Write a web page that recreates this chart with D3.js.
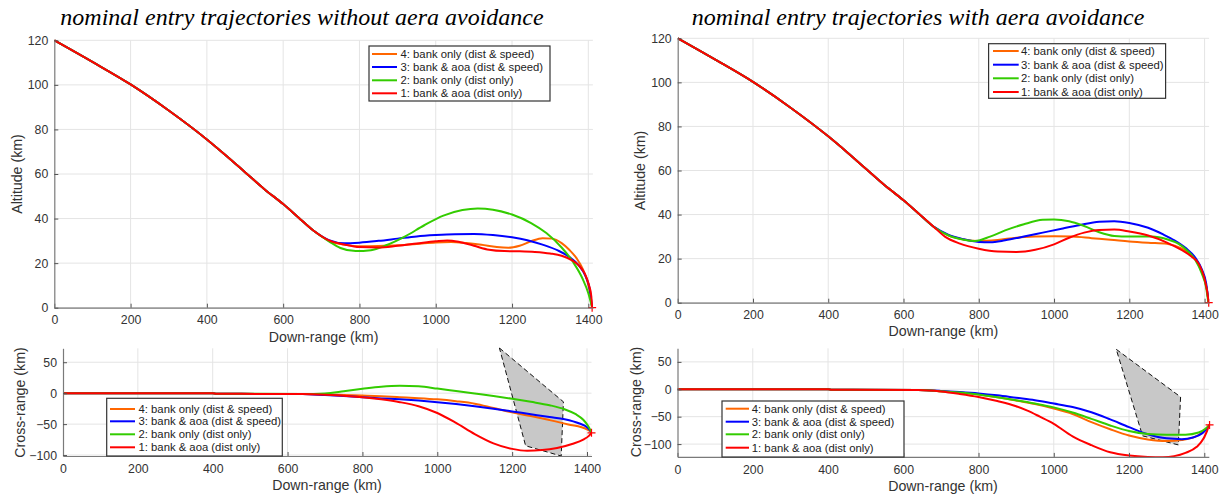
<!DOCTYPE html>
<html>
<head>
<meta charset="utf-8">
<script src="https://cdn.jsdelivr.net/npm/d3@7"></script>
<style>
  body { margin: 0; background: #fff; }
  svg { display: block; }
  text { font-family: "Liberation Sans", Arial, Helvetica, sans-serif; }
</style>
</head>
<body>
<svg id="chart" width="1225" height="495"></svg>
<script>
// ---------- data (down-range km, altitude / cross-range km) ----------
const downRangeTicks = [0, 200, 400, 600, 800, 1000, 1200, 1400];
const altitudeTicks = [0, 20, 40, 60, 80, 100, 120];
const crossRangeTicks = [-100, -50, 0, 50];

const seriesNames = [
  "4: bank only (dist & speed)",
  "3: bank & aoa (dist & speed)",
  "2: bank only (dist only)",
  "1: bank & aoa (dist only)"
];

const panelTitles = [
  "nominal entry trajectories without aera avoidance",
  "nominal entry trajectories with aera avoidance"
];

// shared initial descent (altitude)
const descent = [[0,120],[100,110.3],[200,100.2],[300,88.5],[400,75.5],[450,68.3],
  [500,60.8],[550,53.3],[600,46.5],[640,40.5],[680,34.5]];

// altitude, no area avoidance
const altNoAvoid4 = [[720,30.0],[760,28.3],[800,27.6],[850,27.7],[900,28.0],[950,28.6],[1000,29.3],
  [1040,29.5],[1080,29.0],[1120,28.2],[1160,27.2],[1190,26.9],[1220,27.8],[1250,29.8],[1280,31.2],
  [1305,31.0],[1330,29.0],[1350,26.0],[1370,22.0],[1385,17.5],[1398,11.5],[1406,5],[1410,0]];
const altNoAvoid3 = [[720,30.3],[760,28.9],[800,29.2],[850,30.0],[900,31.0],[950,32.0],[1000,32.6],
  [1050,33.0],[1100,33.1],[1150,32.6],[1200,31.6],[1240,30.3],[1280,28.3],[1320,25.7],[1350,22.8],
  [1375,19],[1393,14],[1404,8],[1410,0]];
const altNoAvoid2 = [[720,29.8],[750,26.8],[790,25.4],[830,25.8],[870,28.0],[920,32.0],[970,37.0],
  [1020,41.3],[1070,43.8],[1110,44.5],[1150,44.0],[1200,41.8],[1250,38.0],[1290,33.5],[1330,27],
  [1360,20.5],[1385,13],[1400,6.5],[1410,0]];
const altNoAvoid1 = [[720,30.2],[760,28.4],[800,27.2],[850,27.0],[900,27.8],[950,28.8],[1000,29.8],
  [1030,30.2],[1060,29.6],[1100,27.8],[1140,26.0],[1180,25.4],[1220,25.3],[1260,25.0],[1300,24.3],
  [1330,23.3],[1355,21.5],[1375,19],[1390,15.5],[1402,10],[1408,5],[1410,0]];

// altitude, with area avoidance
const altAvoid4 = [[720,30.5],[760,28.7],[800,28.0],[850,28.5],[900,29.5],[950,30.0],[1000,30.2],
  [1050,30.0],[1100,29.3],[1150,28.6],[1200,27.8],[1250,27.2],[1300,26.7],[1340,24.5],[1365,21.5],
  [1385,17.5],[1398,12],[1406,6],[1411,0]];
const altAvoid3 = [[720,30.8],[760,28.8],[800,27.6],[830,27.4],[870,28.3],[920,30.0],[970,31.8],
  [1020,33.6],[1070,35.3],[1120,36.7],[1160,37.0],[1200,36.2],[1250,34.0],[1290,31.0],[1320,28.3],
  [1350,24.8],[1375,20.5],[1393,15],[1404,9],[1411,0]];
const altAvoid2 = [[720,30.5],[760,28.6],[790,28.0],[830,30.0],[870,32.8],[920,35.6],[970,37.6],
  [1000,37.8],[1040,37.0],[1080,34.8],[1120,32.0],[1160,30.3],[1200,30.0],[1260,30.0],[1300,28.8],
  [1330,26.8],[1355,23.5],[1375,19.5],[1392,13.5],[1404,7],[1410,0]];
const altAvoid1 = [[710,30.0],[750,26.8],[800,24.5],[850,23.2],[900,23.0],[950,24.0],[1000,26.5],
  [1040,29.5],[1080,31.8],[1120,33.0],[1160,33.2],[1200,32.3],[1250,30.5],[1300,27.3],[1340,23.8],
  [1365,21],[1385,17.5],[1398,12],[1406,6],[1411,0]];

// shared initial cross-range
const crossStart = [[0,0],[400,0],[410,-0.8],[640,-1.5]];

// cross-range, no area avoidance
const crossNoAvoid4 = [[700,-2.0],[750,-2.8],[800,-3.8],[850,-5],[900,-6.5],[950,-8],[1000,-10],
  [1050,-13],[1100,-17],[1150,-24],[1200,-31],[1250,-37],[1300,-43.5],[1350,-50.5],[1400,-58.5],[1412,-63]];
const crossNoAvoid3 = [[700,-3],[750,-4.5],[800,-6.5],[850,-8.5],[900,-10],[950,-12],[1000,-14.5],
  [1050,-17.5],[1100,-21],[1150,-25],[1200,-29.5],[1250,-34],[1300,-38.5],[1340,-42],[1380,-49],
  [1400,-55],[1412,-63]];
const crossNoAvoid2 = [[700,-0.5],[750,3],[800,7],[850,10.5],[900,12],[950,11],[1000,7.5],[1050,3.5],
  [1100,-0.5],[1150,-4.5],[1200,-9],[1250,-14],[1300,-19.5],[1340,-26],[1370,-34],[1390,-43],
  [1403,-53],[1412,-63]];
const crossNoAvoid1 = [[700,-2.5],[750,-4],[800,-6.5],[850,-10],[900,-14.5],[950,-21],[1000,-32],
  [1050,-48],[1100,-66],[1150,-81],[1200,-90],[1240,-93],[1280,-92],[1320,-88.5],[1360,-82],
  [1390,-75],[1405,-69],[1412,-64]];

// cross-range, with area avoidance
const crossAvoid4 = [[700,-3.5],[750,-6],[800,-9.5],[850,-14.5],[900,-20.5],[950,-27],[1000,-35],
  [1050,-45],[1100,-60],[1150,-73],[1200,-84.5],[1250,-91.5],[1300,-94.5],[1340,-92.5],[1375,-87],
  [1395,-79],[1407,-71],[1414,-65]];
const crossAvoid3 = [[700,-3],[750,-5],[800,-7.5],[850,-11],[900,-15.5],[950,-20],[1000,-26],
  [1050,-32.5],[1100,-42],[1150,-55],[1200,-69],[1250,-82],[1300,-89.5],[1340,-91],[1370,-88],
  [1395,-80],[1407,-72],[1414,-65]];
const crossAvoid2 = [[700,-3.5],[750,-6],[800,-9.5],[850,-14.5],[900,-20],[950,-26],[1000,-33],
  [1050,-42.5],[1100,-54],[1150,-66],[1200,-76],[1250,-81.5],[1300,-83],[1350,-83],[1385,-79],
  [1403,-72],[1414,-65]];
const crossAvoid1 = [[700,-4],[750,-8.5],[800,-14],[850,-21.5],[900,-31],[930,-39],[963,-50],
  [1000,-63],[1050,-86],[1100,-102],[1150,-115],[1200,-121],[1250,-123.5],[1290,-124],[1320,-122],
  [1350,-116],[1380,-105],[1398,-90],[1408,-75],[1414,-65]];

// no-fly area outline (down-range, cross-range)
const noFlyArea = [[1166,73],[1337,-14],[1331,-101.5],[1236,-85]];

// ---------- styling ----------
const seriesColors = ["#ff6600", "#0000ff", "#33cc00", "#ff0000"];
const tickFont = 12.3, labelFont = 14.2, legendFont = 11.3;

const svg = d3.select("#chart");
let clipId = 0;

function drawPanel(cfg) {
  const x = d3.scaleLinear().domain(cfg.xDomain).range(cfg.xRange);
  const y = d3.scaleLinear().domain(cfg.yDomain).range(cfg.yRange);
  const g = svg.append("g");
  const [xl, xr] = cfg.xRange, [yb, yt] = cfg.yRange;

  // grid
  g.append("g").selectAll("line").data(cfg.xTicks.filter(d => d > 0)).join("line")
    .attr("x1", d => x(d)).attr("x2", d => x(d)).attr("y1", yb).attr("y2", yt)
    .attr("stroke", "#e4e4e4").attr("stroke-width", 1);
  g.append("g").selectAll("line").data(cfg.yTicks).join("line")
    .attr("x1", xl).attr("x2", xr).attr("y1", d => y(d)).attr("y2", d => y(d))
    .attr("stroke", "#e4e4e4").attr("stroke-width", 1);

  const id = "clip" + (clipId++);
  g.append("clipPath").attr("id", id).append("rect")
    .attr("x", xl).attr("y", yt - 1).attr("width", xr - xl).attr("height", yb - yt + 1.5);
  const plot = g.append("g").attr("clip-path", `url(#${id})`);

  if (cfg.area) {
    plot.append("path")
      .attr("d", d3.line().x(d => x(d[0])).y(d => y(d[1]))(cfg.area) + "Z")
      .attr("fill", "#c8c8c8").attr("stroke", "#111").attr("stroke-width", 1)
      .attr("stroke-dasharray", "5,3");
  }

  const line = d3.line().x(d => x(d[0])).y(d => y(d[1])).curve(d3.curveMonotoneX);
  cfg.series.forEach((s, i) => {
    plot.append("path").attr("d", line(s)).attr("fill", "none")
      .attr("stroke", seriesColors[i]).attr("stroke-width", 2)
      .attr("stroke-linejoin", "round");
  });
  // end marker of series 1
  const last = cfg.series[3][cfg.series[3].length - 1];
  g.append("path").attr("transform", `translate(${x(last[0])},${y(last[1])})`)
    .attr("d", "M-4,0H4M0,-4V4").attr("stroke", "#ff0000").attr("stroke-width", 1.2);

  // axes
  const fmt = d3.format("d");
  const ax = g.append("g").attr("transform", `translate(0,${yb})`)
    .call(d3.axisBottom(x).tickValues(cfg.xTicks).tickFormat(fmt).tickSizeInner(-4).tickSizeOuter(0).tickPadding(8));
  const ay = g.append("g").attr("transform", `translate(${xl},0)`)
    .call(d3.axisLeft(y).tickValues(cfg.yTicks).tickFormat(fmt).tickSizeInner(-4).tickSizeOuter(0).tickPadding(6));
  [ax, ay].forEach(a => {
    a.select(".domain").attr("stroke", "#7a7a7a").attr("stroke-width", 1.2);
    a.selectAll(".tick line").attr("stroke", "#555");
    a.selectAll(".tick text").attr("fill", "#333").style("font-size", tickFont + "px")
      .style("font-family", "'Liberation Sans', Arial, sans-serif");
  });

  // axis labels
  g.append("text").attr("x", cfg.xLabelPos[0]).attr("y", cfg.xLabelPos[1])
    .attr("text-anchor", "middle").attr("dominant-baseline", "central")
    .attr("fill", "#333").style("font-size", labelFont + "px").text("Down-range (km)");
  g.append("text").attr("transform", `translate(${cfg.yLabelPos[0]},${cfg.yLabelPos[1]}) rotate(-90)`)
    .attr("text-anchor", "middle").attr("dominant-baseline", "central")
    .attr("fill", "#333").style("font-size", labelFont + "px").text(cfg.yLabel);

  // legend
  const L = cfg.legend;
  const lg = g.append("g");
  lg.append("rect").attr("x", L.box[0]).attr("y", L.box[1]).attr("width", L.box[2]).attr("height", L.box[3])
    .attr("fill", "#fff").attr("stroke", "#333").attr("stroke-width", 1.2);
  seriesNames.forEach((name, i) => {
    const ry = L.rows[i];
    lg.append("line").attr("x1", L.sample[0]).attr("x2", L.sample[1]).attr("y1", ry).attr("y2", ry)
      .attr("stroke", seriesColors[i]).attr("stroke-width", 2);
    lg.append("text").attr("x", L.textX).attr("y", ry).attr("dominant-baseline", "central")
      .attr("fill", "#222").style("font-size", legendFont + "px").text(name);
  });
}

// titles
svg.append("text").attr("x", 302).attr("y", 25).attr("text-anchor", "middle")
  .style("font-family", "'Liberation Serif', 'Times New Roman', serif").style("font-style", "italic")
  .style("font-size", "24px").attr("fill", "#000").text(panelTitles[0]);
svg.append("text").attr("x", 918).attr("y", 25).attr("text-anchor", "middle")
  .style("font-family", "'Liberation Serif', 'Times New Roman', serif").style("font-style", "italic")
  .style("font-size", "24px").attr("fill", "#000").text(panelTitles[1]);

drawPanel({
  xDomain: [0, 1412], xRange: [54.3, 592.9], yDomain: [0, 120], yRange: [307.7, 40.3],
  xTicks: downRangeTicks, yTicks: altitudeTicks, yLabel: "Altitude (km)",
  xLabelPos: [323.6, 337], yLabelPos: [16.5, 174],
  series: [descent.concat(altNoAvoid4), descent.concat(altNoAvoid3), descent.concat(altNoAvoid2), descent.concat(altNoAvoid1)],
  legend: { box: [369, 46, 181, 55], rows: [54, 67, 80.3, 93.3], sample: [372, 397], textX: 400.5 }
});

drawPanel({
  xDomain: [0, 1412], xRange: [677.7, 1209.1], yDomain: [0, 120], yRange: [302.7, 38.3],
  xTicks: downRangeTicks, yTicks: altitudeTicks, yLabel: "Altitude (km)",
  xLabelPos: [943.4, 331], yLabelPos: [640, 170.5],
  series: [descent.concat(altAvoid4), descent.concat(altAvoid3), descent.concat(altAvoid2), descent.concat(altAvoid1)],
  legend: { box: [988.6, 43.7, 177, 54.6], rows: [51, 64.7, 78.3, 92], sample: [993, 1018.7], textX: 1021 }
});

drawPanel({
  xDomain: [0, 1412], xRange: [63, 591.5], yDomain: [-101.5, 72.5], yRange: [456, 348.3],
  xTicks: downRangeTicks, yTicks: crossRangeTicks, yLabel: "Cross-range (km)",
  xLabelPos: [327, 485], yLabelPos: [19.5, 402.5], area: noFlyArea,
  series: [crossStart.concat(crossNoAvoid4), crossStart.concat(crossNoAvoid3), crossStart.concat(crossNoAvoid2), crossStart.concat(crossNoAvoid1)],
  legend: { box: [106.7, 398.3, 175.6, 57.7], rows: [409, 421.3, 434.3, 447.3], sample: [110, 135], textX: 138.5 }
});

drawPanel({
  xDomain: [0, 1412], xRange: [677.5, 1208.8], yDomain: [-123.4, 74.8], yRange: [456.9, 348.3],
  xTicks: downRangeTicks, yTicks: crossRangeTicks, yLabel: "Cross-range (km)",
  xLabelPos: [943, 485.7], yLabelPos: [636.3, 402], area: noFlyArea,
  series: [crossStart.concat(crossAvoid4), crossStart.concat(crossAvoid3), crossStart.concat(crossAvoid2), crossStart.concat(crossAvoid1)],
  legend: { box: [722, 401, 182, 56], rows: [408.7, 421.7, 434.3, 447.7], sample: [725.7, 749], textX: 751.8 }
});
</script>
</body>
</html>
